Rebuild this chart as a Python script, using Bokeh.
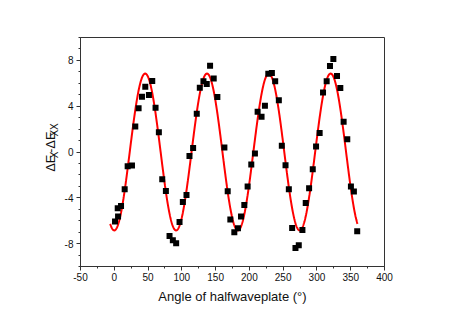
import math
import numpy as np
from bokeh.plotting import figure
from bokeh.layouts import row
from bokeh.models import FixedTicker, Label, Range1d, ColumnDataSource
from bokeh.embed import file_html
from bokeh.resources import INLINE

# ---- measured data points (angle in degrees, signal) ----
angle = [1.1, 5.1, 5.6, 10.0, 15.4, 19.8, 26.2, 31.1, 36.0, 41.0,
         45.9, 51.3, 56.2, 61.1, 66.0, 71.0, 76.4, 81.8, 86.7, 91.6,
         96.6, 101.5, 106.9, 111.3, 116.7, 122.1, 126.6, 132.0, 136.9, 141.8,
         147.2, 152.6, 163.0, 167.9, 171.8, 177.7, 183.1, 187.6, 192.5, 197.4,
         202.8, 208.2, 212.2, 218.0, 223.0, 228.0, 233.3, 238.2, 243.6, 248.0,
         253.5, 258.4, 263.3, 268.2, 273.1, 278.5, 283.4, 288.4, 293.8, 298.7,
         304.0, 309.0, 314.4, 319.3, 324.3, 329.7, 334.6, 339.5, 344.9, 350.3,
         354.7, 359.6]
delta_e = [-6.08, -4.91, -5.64, -4.71, -3.25, -1.24, -1.18, 2.23, 3.83, 4.83,
           5.70, 4.97, 6.20, 3.86, 1.73, -2.38, -3.40, -7.33, -7.71, -7.97,
           -6.11, -4.36, -3.75, -0.34, 0.34, 3.34, 5.61, 6.17, 5.93, 7.54,
           6.43, 4.80, 0.39, -3.43, -5.90, -7.01, -6.66, -5.64, -4.62, -3.02,
           -1.09, -0.13, 3.51, 3.08, 4.04, 6.84, 6.90, 6.17, 4.53, 0.54,
           -1.15, -3.25, -6.63, -8.38, -8.15, -6.81, -4.45, -3.16, -1.50, 0.48,
           1.65, 5.20, 6.17, 7.51, 8.12, 6.63, 5.58, 2.64, 1.12, -3.02,
           -3.45, -6.92]

# ---- sine fit parameters ----
fit_offset = 0.0
fit_amplitude = 6.85
fit_period = 91.5
fit_min_angle = 0.0
fit_start = -6.0
fit_end = 360.0

# ---- ticks ----
x_ticks = [-50, 0, 50, 100, 150, 200, 250, 300, 350, 400]
x_minor = [-50, -25, 0, 25, 50, 75, 100, 125, 150, 175, 200, 225, 250, 275, 300, 325, 350, 375, 400]
y_ticks = [-8, -4, 0, 4, 8]
y_minor = [-10, -9, -8, -7, -6, -5, -4, -3, -2, -1, 0, 1, 2, 3, 4, 5, 6, 7, 8, 9, 10]
x_tick_labels = ["-50", "0", "50", "100", "150", "200", "250", "300", "350", "400"]
y_tick_labels = ["-8", "-4", "0", "4", "8"]

x_title = "Angle of halfwaveplate (°)"
y_title_pieces = ["\u0394E", "X", "-\u0394E", "XX"]

fit_x = np.linspace(fit_start, fit_end, 800)
fit_y = fit_offset - fit_amplitude * np.cos(2 * np.pi * (fit_x - fit_min_angle) / fit_period)

FONT = "Liberation Sans"
AX = "#333333"
TXT = "#111111"

TITLE_W = 60
TOTAL_H = 37 + 229 + 46

# ---- main plot ----
p = figure(frame_width=304, frame_height=229,
           x_range=Range1d(-50, 400), y_range=Range1d(-10, 10),
           output_backend="svg", toolbar_location=None,
           min_border_left=80 - TITLE_W, min_border_right=52,
           min_border_top=37, min_border_bottom=46)

p.xgrid.visible = False
p.ygrid.visible = False
p.outline_line_color = AX
p.outline_line_width = 1
p.background_fill_color = "white"
p.border_fill_color = "white"

for ax in (p.xaxis[0], p.yaxis[0]):
    ax.axis_line_color = AX
    ax.major_tick_line_color = AX
    ax.minor_tick_line_color = AX
    ax.major_tick_out = 4
    ax.major_tick_in = 0
    ax.minor_tick_out = 2
    ax.minor_tick_in = 0
    ax.major_label_text_font = FONT
    ax.major_label_text_font_size = "10px"
    ax.major_label_text_color = TXT

p.xaxis.ticker = FixedTicker(ticks=x_ticks, minor_ticks=x_minor)
p.yaxis.ticker = FixedTicker(ticks=y_ticks, minor_ticks=y_minor)
p.xaxis.major_label_overrides = {t: s for t, s in zip(x_ticks, x_tick_labels)}
p.yaxis.major_label_overrides = {t: s for t, s in zip(y_ticks, y_tick_labels)}
p.xaxis.major_label_standoff = 2
p.yaxis.major_label_standoff = 3

p.xaxis.axis_label = x_title
p.xaxis.axis_label_text_font = FONT
p.xaxis.axis_label_text_font_size = "13px"
p.xaxis.axis_label_text_font_style = "normal"
p.xaxis.axis_label_text_color = TXT
p.xaxis.axis_label_standoff = 5

# fitted curve
p.line(fit_x, fit_y, line_color="#ff0000", line_width=2)

# data points
src = ColumnDataSource(data=dict(angle=angle, delta_e=delta_e))
p.scatter("angle", "delta_e", source=src, marker="square", size=6,
          fill_color="black", line_color=None)

# ---- narrow strip holding the rotated y-axis title  ΔE_X-ΔE_XX ----
t = figure(width=TITLE_W, height=TOTAL_H, x_range=Range1d(0, TITLE_W),
           y_range=Range1d(0, TOTAL_H), x_axis_location=None, y_axis_location=None,
           output_backend="svg", toolbar_location=None, min_border=0)
t.xgrid.visible = False
t.ygrid.visible = False
t.outline_line_color = None
t.background_fill_color = "white"
t.border_fill_color = "white"

# rotated labels are centred (across the text) on their anchor
main_x, sub_x = 49.5, 53.5
starts = [183, 164.5, 157.5, 135]        # page y where each piece begins
sizes = ["13px", "10px", "13px", "10px"]
for i, txt in enumerate(y_title_pieces):
    xx = main_x if sizes[i] == "13px" else sub_x
    t.add_layout(Label(x=xx, y=TOTAL_H - starts[i], text=txt, angle=math.pi / 2,
                       text_align="left", text_baseline="middle",
                       text_font=FONT, text_font_size=sizes[i], text_color=TXT))

layout = row(t, p)
open("out.html", "w").write(file_html(layout, INLINE))
